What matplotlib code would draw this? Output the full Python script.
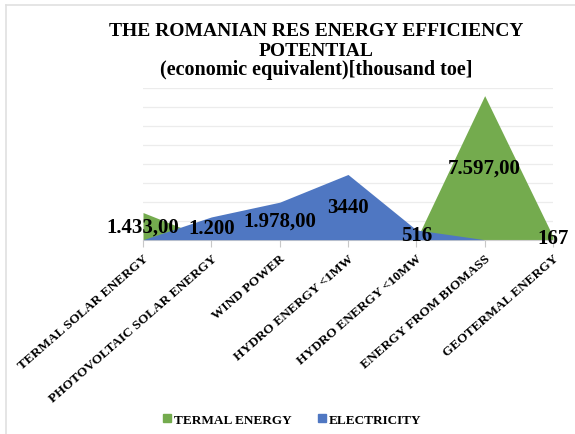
import matplotlib
matplotlib.use("Agg")
import matplotlib.pyplot as plt
from matplotlib.patches import Patch
from matplotlib.lines import Line2D

categories = ["TERMAL SOLAR ENERGY", "PHOTOVOLTAIC SOLAR ENERGY", "WIND POWER",
              "HYDRO ENERGY <1MW", "HYDRO ENERGY <10MW", "ENERGY FROM BIOMASS",
              "GEOTERMAL ENERGY"]
termal = [1433, 0, 0, 0, 0, 7597, 167]
electricity = [0, 1200, 1978, 3440, 516, 0, 0]
label_values = [1433, 1200, 1978, 3440, 516, 7597, 167]
label_texts = ["1.433,00", "1.200", "1.978,00", "3440", "516", "7.597,00", "167"]

green = "#74AB4E"
blue = "#4F77C2"
serif = "Liberation Serif"

fig = plt.figure(figsize=(5.75, 4.35), dpi=100)
ax = fig.add_axes([143 / 575, 1 - 240.7 / 435, 410 / 575, 151.7 / 435])

x = list(range(len(categories)))
ax.fill_between(x, termal, 0, color=green, lw=0, zorder=2)
ax.fill_between(x, electricity, 0, color=blue, lw=0, zorder=3)

for i, (v, t) in enumerate(zip(label_values, label_texts)):
    ax.text(i, v / 2, t, ha="center", va="center", fontsize=15,
            fontweight="bold", family=serif, color="black", zorder=5)

ax.set_xlim(0, 6)
ax.set_ylim(0, 8000)
ax.set_yticks(range(0, 8001, 1000))
ax.yaxis.grid(True, color="#ececec", lw=0.9, zorder=0)
ax.tick_params(axis="y", length=0, labelleft=False)
ax.set_xticks(x)
ax.set_xticklabels(categories, rotation=41, ha="right", va="top",
                   rotation_mode="anchor", fontsize=9.6, fontweight="bold",
                   family=serif)
ax.tick_params(axis="x", length=5, color="#c8c8c8", pad=4)
for s in ["top", "right", "left"]:
    ax.spines[s].set_visible(False)
ax.spines["bottom"].set_color("#d0d0d0")
ax.set_axisbelow(True)

# title lines
fig.text(316 / 575, 1 - 32 / 435, "THE ROMANIAN RES ENERGY EFFICIENCY",
         ha="center", va="center", fontsize=14, fontweight="bold", family=serif)
fig.text(316 / 575, 1 - 51 / 435, "POTENTIAL",
         ha="center", va="center", fontsize=14, fontweight="bold", family=serif)
fig.text(316 / 575, 1 - 70 / 435, "(economic equivalent)[thousand toe]",
         ha="center", va="center", fontsize=14.5, fontweight="bold", family=serif)

handles = [Patch(color=green, label="TERMAL ENERGY"),
           Patch(color=blue, label="ELECTRICITY")]
fig.legend(handles=handles, loc="center", bbox_to_anchor=(292 / 575, 1 - 420.7 / 435),
           ncol=2, frameon=False, handlelength=0.6, handleheight=0.6,
           handletextpad=0.2, columnspacing=2.0,
           prop={"family": serif, "weight": "bold", "size": 9.5})

# light frame around the chart
fig.add_artist(Line2D([6 / 575, 1], [1 - 6 / 435] * 2, color="#e0e0e0", lw=1.2))
fig.add_artist(Line2D([6 / 575] * 2, [0, 1 - 6 / 435], color="#e0e0e0", lw=1.2))

fig.savefig("out.png", dpi=100)
